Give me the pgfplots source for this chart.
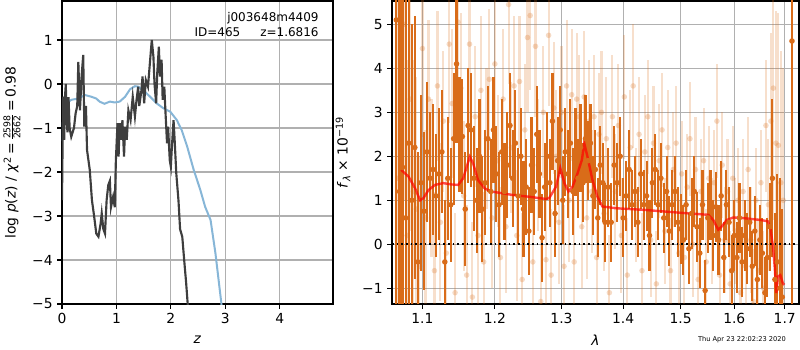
\documentclass[border=0pt]{standalone}
\usepackage{fontspec}
\setmainfont{DejaVu Sans}
\usepackage{pgfplots}
\usepackage{pgfplotstable}
\pgfplotsset{compat=1.18}
\definecolor{dor}{RGB}{217,108,25}
\definecolor{blk}{RGB}{62,62,62}
\definecolor{blu}{RGB}{135,182,215}
\definecolor{gridc}{RGB}{176,176,176}

\pgfplotstableread{
x y e
1.066 5.10 8
1.070 1.20 6
1.074 1.75 5
1.078 0.60 5
1.082 2.30 4
1.086 1.00 4
1.090 2.20 3
1.094 -0.40 2.5
1.098 1.40 2
1.102 0.75 1.8
1.106 2.10 1.6
1.110 1.50 1.5
1.114 1.70 1.5
1.118 1.10 1.4
1.122 1.60 1.5
1.126 2.10 1.4
1.130 -0.40 1.4
1.134 1.50 1.4
1.138 0.90 1.3
1.142 2.40 1.5
1.146 4.10 1.8
1.150 2.50 1.3
1.154 2.45 1.3
1.158 0.80 1.3
1.162 2.70 1.3
1.166 2.60 1.3
1.170 1.50 1.2
1.174 1.00 1.2
1.178 2.00 1.3
1.182 0.80 1.2
1.186 1.40 1.2
1.190 2.40 1.2
1.194 1.20 1.2
1.198 2.60 1.2
1.202 1.60 1.1
1.206 0.90 1.2
1.210 2.10 1.2
1.214 1.20 1.1
1.218 1.80 1.2
1.222 2.70 1.2
1.226 1.50 1.1
1.230 2.30 1.2
1.234 1.10 1.1
1.238 2.00 1.1
1.242 0.80 1.1
1.246 1.30 1.1
1.250 0.30 1.0
1.254 1.80 1.1
1.258 1.20 1.0
1.262 2.50 1.1
1.266 1.60 1.0
1.270 0.15 1.0
1.274 1.30 1.0
1.278 2.00 1.0
1.282 1.40 1.0
1.286 2.80 1.1
1.290 0.70 1.0
1.294 1.90 1.0
1.298 2.60 1.0
1.302 1.00 1.0
1.306 2.10 1.0
1.310 1.60 1.0
1.314 2.30 1.0
1.318 1.20 1.0
1.322 2.10 1.0
1.326 1.50 0.9
1.330 2.20 1.0
1.334 1.40 0.9
1.338 2.40 1.0
1.342 1.90 0.9
1.346 2.30 0.9
1.350 1.10 0.9
1.354 1.70 0.9
1.358 0.60 0.9
1.362 1.80 0.9
1.366 1.40 0.9
1.370 0.50 0.9
1.375 1.30 0.9
1.380 0.50 0.9
1.385 1.80 0.9
1.390 1.40 0.9
1.395 2.00 0.9
1.400 0.60 0.9
1.405 1.10 0.8
1.410 1.70 0.9
1.415 0.90 0.8
1.420 1.20 0.8
1.425 0.50 0.8
1.430 1.60 0.8
1.435 0.90 0.8
1.440 1.10 0.8
1.445 0.20 0.8
1.450 1.40 0.8
1.455 1.70 0.8
1.460 0.90 0.8
1.465 1.50 0.8
1.470 0.60 0.8
1.475 1.20 0.8
1.480 0.30 0.8
1.485 0.90 0.8
1.490 1.20 0.8
1.495 0.50 0.8
1.500 0.35 0.8
1.505 0.10 0.8
1.510 0.90 0.8
1.515 -0.10 0.8
1.520 0.70 0.8
1.525 1.20 0.8
1.530 0.40 0.8
1.535 -0.20 0.8
1.540 0.90 0.8
1.545 -1.05 0.7
1.550 0.60 0.8
1.555 0.90 0.8
1.560 0.20 0.8
1.565 0.85 0.8
1.570 0.10 0.8
1.575 1.10 0.8
1.580 -0.30 0.8
1.585 0.90 0.8
1.590 0.50 0.8
1.595 -0.60 0.8
1.600 0.20 0.8
1.605 -0.30 0.8
1.610 0.60 0.8
1.615 -0.40 0.8
1.620 0.20 0.8
1.625 -0.10 0.8
1.630 0.50 0.8
1.635 -0.50 0.8
1.640 0.30 0.8
1.645 -0.80 0.8
1.650 0.10 0.8
1.655 -0.20 0.8
1.660 -1.10 0.8
1.665 -0.30 0.9
1.670 0.40 1.0
1.675 1.50 1.8
1.680 -0.80 1.5
1.685 -0.40 2.0
1.690 -1.00 2.5
1.695 -1.20 2.0
1.715 4.62 10
}\darkpts

\pgfplotstableread{
x y e
1.068 1.50 5
1.072 2.00 5
1.076 5.00 4
1.080 0.20 4
1.084 3.30 3
1.088 1.20 3
1.092 0.80 3
1.096 -0.50 2.5
1.100 4.45 2
1.104 0.60 2
1.108 3.30 1.8
1.112 1.50 1.8
1.116 -0.60 1.8
1.120 3.60 1.7
1.124 0.50 1.8
1.128 2.80 1.6
1.132 -0.20 1.7
1.136 4.55 1.8
1.140 3.20 1.7
1.144 -1.10 1.8
1.148 5.05 1.9
1.152 3.55 1.7
1.156 1.10 1.7
1.160 -0.70 1.6
1.164 4.55 1.8
1.168 -1.20 1.7
1.172 2.90 1.6
1.176 0.20 1.6
1.180 3.50 1.7
1.184 -0.40 1.6
1.188 2.40 1.6
1.192 3.75 1.6
1.196 0.60 1.6
1.200 4.10 1.7
1.204 1.90 1.5
1.208 -0.30 1.6
1.212 3.30 1.6
1.216 0.40 1.5
1.220 5.45 1.8
1.224 2.20 1.5
1.228 3.60 1.6
1.232 0.20 1.5
1.236 3.70 1.5
1.240 -0.80 1.5
1.244 2.60 1.5
1.248 4.70 1.7
1.252 5.20 1.7
1.256 -0.40 1.5
1.260 4.50 1.6
1.264 1.80 1.5
1.268 -1.30 1.5
1.272 3.00 1.5
1.276 -0.35 1.5
1.280 4.75 1.6
1.284 -0.70 1.5
1.288 3.10 1.5
1.292 2.00 1.5
1.296 0.50 1.4
1.300 3.00 1.5
1.304 -0.50 1.4
1.308 3.60 1.5
1.312 1.00 1.4
1.316 3.40 1.5
1.320 -0.40 1.4
1.324 3.30 1.5
1.328 2.90 1.4
1.332 0.40 1.4
1.336 3.35 1.5
1.340 0.60 1.4
1.344 2.80 1.4
1.348 1.20 1.4
1.352 2.90 1.4
1.356 -0.30 1.4
1.360 2.50 1.4
1.364 3.00 1.4
1.368 0.70 1.3
1.372 2.40 1.4
1.377 -1.10 1.3
1.382 2.90 1.4
1.387 1.20 1.3
1.392 2.70 1.4
1.397 0.20 1.3
1.402 3.35 1.4
1.407 -0.70 1.3
1.412 2.20 1.3
1.417 3.60 1.4
1.422 0.90 1.3
1.427 2.50 1.3
1.432 -0.60 1.3
1.437 2.10 1.3
1.442 2.90 1.3
1.447 0.10 1.3
1.452 2.30 1.3
1.457 -0.90 1.2
1.462 1.90 1.3
1.467 2.60 1.3
1.472 0.30 1.2
1.477 2.20 1.3
1.482 -0.60 1.2
1.487 1.70 1.3
1.492 2.30 1.3
1.497 -0.20 1.2
1.502 1.60 1.2
1.507 -0.30 1.2
1.512 1.30 1.2
1.517 2.40 1.3
1.522 0.00 1.2
1.527 1.70 1.2
1.532 -0.80 1.2
1.537 1.20 1.2
1.542 1.90 1.2
1.547 -0.40 1.2
1.552 1.50 1.2
1.557 0.30 1.2
1.562 1.40 1.2
1.567 2.80 1.3
1.572 -0.70 1.2
1.577 1.80 1.2
1.582 0.10 1.2
1.587 1.20 1.2
1.592 -0.90 1.2
1.597 1.50 1.2
1.602 0.30 1.2
1.607 1.00 1.2
1.612 -1.10 1.2
1.617 1.20 1.2
1.622 -0.50 1.2
1.627 1.70 1.2
1.632 0.10 1.2
1.637 -1.30 1.2
1.642 1.00 1.2
1.647 -0.60 1.2
1.652 1.40 1.2
1.657 -1.00 1.3
1.662 2.70 1.5
1.667 0.90 1.5
1.672 2.80 2.0
1.677 3.55 3
1.682 2.30 3
1.687 2.25 3
1.692 1.40 3
1.697 1.00 3
}\lightpts

\pgfplotsset{
  mystyle/.style={
    scale only axis,
    height=227.25pt,
    axis line style={black, line width=0.8pt},
    grid=major,
    major grid style={gridc, line width=0.8pt},
    tick align=outside,
    xtick pos=bottom, ytick pos=left,
    major tick length=3.5pt,
    tick style={black, line width=0.8pt},
    ticklabel style={font=\fontsize{10.4}{12}\selectfont},
    label style={font=\fontsize{10.4}{12}\selectfont},
    clip=true,
  }
}

\begin{document}
\begin{tikzpicture}
\useasboundingbox (0,0) rectangle (600pt,262.5pt);

% ---------- left panel ----------
\begin{axis}[mystyle,
  at={(46.5pt,34.5pt)}, anchor=south west,
  width=203.25pt,
  xmin=0, xmax=4.98, ymin=-5, ymax=1.886,
  xtick={0,1,2,3,4}, xticklabels={0,1,2,3,4},
  ytick={-5,-4,-3,-2,-1,0,1},
  yticklabels={−5,−4,−3,−2,−1,0,1},
  xlabel={\textit{z}},
  xlabel style={at={(axis description cs:0.5,0)}, anchor=center, yshift=-27pt},
  ylabel={log \textit{p}(\textit{z}) / \textit{χ}\textsuperscript{2}\,=\,$\frac{\mbox{\fontsize{7}{8}\selectfont 2598}}{\mbox{\fontsize{7}{8}\selectfont 2662}}$\,=\,0.98},
  ylabel style={at={(axis description cs:0,0.5)}, anchor=center, yshift=37.5pt},
]
\addplot[blu, line width=1.5pt] coordinates {
(0,-1.3) (0.03,-0.6) (0.08,-0.44) (0.17,-0.36) (0.3,-0.33) (0.42,-0.25) (0.54,-0.29)
(0.63,-0.33) (0.69,-0.4) (0.78,-0.45) (0.88,-0.4) (0.97,-0.42) (1.06,-0.4) (1.16,-0.29)
(1.25,-0.12) (1.34,-0.05) (1.40,-0.06) (1.50,-0.15) (1.62,-0.29) (1.74,-0.44) (1.86,-0.55)
(1.99,-0.63) (2.11,-0.82) (2.2,-1.05) (2.30,-1.42) (2.42,-1.95) (2.54,-2.4) (2.63,-2.79)
(2.73,-3.09) (2.82,-3.85) (2.93,-5.0) (2.96,-5.5)
};
\addplot[blk, line width=1.6pt] coordinates {
(0,-2.64) (0.02,-0.29) (0.04,-1.27) (0.055,-0.29) (0.07,0.0) (0.08,-0.6) (0.10,-1.1)
(0.12,-0.3) (0.14,-1.0) (0.17,-1.2) (0.22,-1.0) (0.25,-0.67) (0.28,-0.5) (0.30,0.5)
(0.33,-0.6) (0.36,0.17) (0.39,0.66) (0.41,-0.97) (0.44,-0.5) (0.46,-1.5) (0.51,-1.95)
(0.55,-2.64) (0.59,-3.0) (0.63,-3.4) (0.67,-3.47) (0.71,-3.17) (0.73,-2.94) (0.76,-3.3)
(0.79,-3.4) (0.82,-2.64) (0.85,-2.3) (0.88,-2.2) (0.90,-2.8) (0.94,-2.56) (0.97,-2.8)
(0.99,-1.73) (1.02,-0.89) (1.04,-1.65) (1.06,-0.89) (1.09,-1.27) (1.11,-0.82) (1.14,-1.65)
(1.16,-0.97) (1.19,-1.27) (1.22,-0.6) (1.26,-0.82) (1.30,-0.29) (1.34,-0.74) (1.37,-0.36)
(1.40,-0.06) (1.42,-0.5) (1.46,-0.14) (1.48,0.17) (1.51,-0.44) (1.54,0.09) (1.58,-0.06)
(1.62,0.55) (1.65,1.0) (1.68,0.62) (1.70,0.0) (1.73,-0.44) (1.75,0.24) (1.78,0.85)
(1.80,0.17) (1.83,0.55) (1.85,-0.36) (1.88,-0.06) (1.90,-0.6) (1.93,-1.35) (1.95,-0.97)
(1.98,-1.73) (2.0,-1.88) (2.02,-1.42) (2.05,-0.82) (2.07,-1.27) (2.10,-2.03) (2.14,-2.64)
(2.17,-3.3) (2.21,-3.47) (2.25,-4.07) (2.28,-4.5) (2.31,-5.0) (2.33,-5.5)
};
\node[anchor=north east, align=right, font=\fontsize{9}{11.25}\selectfont, inner sep=0pt]
  at (axis description cs:0.948,0.963) {j003648m4409\\ID=465\hspace{15pt}z=1.6816};
\end{axis}

% ---------- right panel ----------
\begin{axis}[mystyle,
  at={(294pt,34.5pt)}, anchor=south west,
  width=305.25pt,
  xmode=log,
  xmin=1.0605, xmax=1.7294, ymin=-1.357, ymax=5.53,
  xtick={1.1,1.2,1.3,1.4,1.5,1.6,1.7},
  xticklabels={1.1,1.2,1.3,1.4,1.5,1.6,1.7},
  minor xtick={},
  ytick={-1,0,1,2,3,4,5},
  yticklabels={−1,0,1,2,3,4,5},
  xlabel={\textit{λ}},
  xlabel style={at={(axis description cs:0.5,0)}, anchor=center, yshift=-27pt},
  ylabel={\textit{f}\raisebox{-0.35ex}{\fontsize{7.5}{8}\selectfont\textit{λ}} × 10\textsuperscript{−19}},
  ylabel style={at={(axis description cs:0,0.5)}, anchor=center, yshift=36.75pt},
]
\addplot[only marks, mark=*, mark size=2.1pt,
  mark options={draw opacity=0, fill=dor, fill opacity=0.25},
  error bars/.cd, y dir=both, y explicit, error mark=none,
  error bar style={line width=1.6pt, dor, opacity=0.22}]
  table[x=x, y=y, y error=e] {\lightpts};
\addplot[only marks, mark=*, mark size=2.1pt,
  mark options={draw opacity=0, fill=dor},
  error bars/.cd, y dir=both, y explicit, error mark=none,
  error bar style={line width=1.6pt, dor}]
  table[x=x, y=y, y error=e] {\darkpts};
\addplot[black, line width=1.3pt, dash pattern=on 1.3pt off 2.2pt] coordinates {(1.0605,0) (1.7294,0)};
\addplot[red, line width=1.8pt, opacity=0.7] coordinates {
(1.0723,1.69) (1.0818,1.54) (1.0904,1.27) (1.0969,1.0) (1.1013,1.05) (1.1079,1.23)
(1.1167,1.35) (1.1279,1.39) (1.1392,1.36) (1.1483,1.35) (1.1552,1.5) (1.1644,1.99)
(1.1690,1.84) (1.176,1.46) (1.1854,1.27) (1.195,1.2) (1.2263,1.12) (1.251,1.08)
(1.276,1.03) (1.281,1.05) (1.2915,1.31) (1.2982,1.73) (1.3045,1.39) (1.311,1.2)
(1.3174,1.31) (1.3253,1.61) (1.3323,1.92) (1.336,2.30) (1.3413,1.99) (1.3493,1.46)
(1.3574,1.08) (1.3655,0.86) (1.3873,0.82) (1.438,0.78) (1.4963,0.72) (1.551,0.67)
(1.5603,0.55) (1.5695,0.33) (1.5758,0.40) (1.5853,0.55) (1.598,0.61) (1.6139,0.60)
(1.653,0.55) (1.6663,0.52) (1.6715,0.33) (1.6762,-0.05) (1.6796,-0.51) (1.683,-1.11)
(1.6864,-0.73) (1.691,-0.70) (1.6963,-0.89) (1.6993,-0.92)
};
\end{axis}

\node[font=\fontsize{5}{6}\selectfont] at (556.5pt,7.5pt) {Thu Apr 23 22:02:23 2020};
\end{tikzpicture}
\end{document}
